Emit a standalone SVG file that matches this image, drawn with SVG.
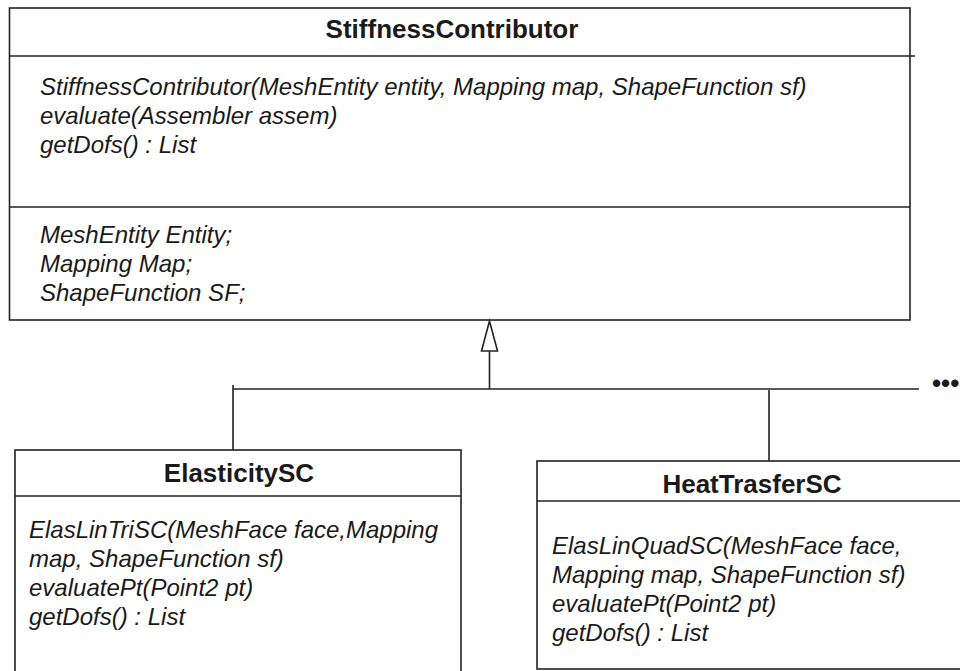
<svg xmlns="http://www.w3.org/2000/svg" width="960" height="671" viewBox="0 0 960 671">
  <style>
    .box { fill: #ffffff; stroke: #222222; stroke-width: 1.6; }
    .sep { stroke: #222222; stroke-width: 1.6; fill: none; }
    .title { font-family: "Liberation Sans", Arial, sans-serif; font-size: 26px; font-weight: bold; fill: #1a1a1a; text-anchor: middle; }
    .member { font-family: "Liberation Sans", Arial, sans-serif; font-size: 24px; font-style: italic; fill: #1a1a1a; }
    .wire { stroke: #222222; stroke-width: 1.6; fill: none; }
    .more { font-family: "Liberation Sans", Arial, sans-serif; font-size: 26px; font-weight: bold; fill: #1a1a1a; }
  </style>
  <rect width="960" height="671" fill="#ffffff"/>

  <!-- base class -->
  <g id="stiffness-contributor">
    <rect class="box" x="9.5" y="8" width="900.5" height="312"/>
    <line class="sep" x1="9.5" y1="56" x2="915" y2="56"/>
    <line class="sep" x1="9.5" y1="207" x2="910" y2="207"/>
    <text class="title" x="452" y="38">StiffnessContributor</text>
    <text class="member" x="40" y="95">StiffnessContributor(MeshEntity entity, Mapping map, ShapeFunction sf)</text>
    <text class="member" x="40" y="124">evaluate(Assembler assem)</text>
    <text class="member" x="40" y="153">getDofs() : List</text>
    <text class="member" x="40" y="243">MeshEntity Entity;</text>
    <text class="member" x="40" y="272">Mapping Map;</text>
    <text class="member" x="40" y="301">ShapeFunction SF;</text>
  </g>

  <!-- subclasses -->
  <g id="elasticity-sc">
    <rect class="box" x="15" y="450" width="446" height="230"/>
    <line class="sep" x1="15" y1="496" x2="461" y2="496"/>
    <text class="title" x="239" y="482">ElasticitySC</text>
    <text class="member" x="29" y="538">ElasLinTriSC(MeshFace face,Mapping</text>
    <text class="member" x="29" y="567">map, ShapeFunction sf)</text>
    <text class="member" x="29" y="596">evaluatePt(Point2 pt)</text>
    <text class="member" x="29" y="625">getDofs() : List</text>
  </g>

  <g id="heat-trasfer-sc">
    <rect class="box" x="537" y="461" width="430" height="208"/>
    <line class="sep" x1="537" y1="501" x2="967" y2="501"/>
    <text class="title" x="752" y="493">HeatTrasferSC</text>
    <text class="member" x="552" y="554">ElasLinQuadSC(MeshFace face,</text>
    <text class="member" x="552" y="583">Mapping map, ShapeFunction sf)</text>
    <text class="member" x="552" y="612">evaluatePt(Point2 pt)</text>
    <text class="member" x="552" y="641">getDofs() : List</text>
  </g>

  <!-- generalization connectors -->
  <g id="connectors">
    <line class="wire" x1="233" y1="385" x2="233" y2="450"/>
    <line class="wire" x1="233" y1="389" x2="919" y2="389"/>
    <line class="wire" x1="769" y1="390" x2="769" y2="461"/>
    <line class="wire" x1="489.5" y1="389" x2="489.5" y2="351"/>
    <polygon class="wire" points="489.5,321 481.5,351 497.5,351" style="fill:#ffffff"/>
    <text class="more" x="932" y="392">•••</text>
  </g>
</svg>
